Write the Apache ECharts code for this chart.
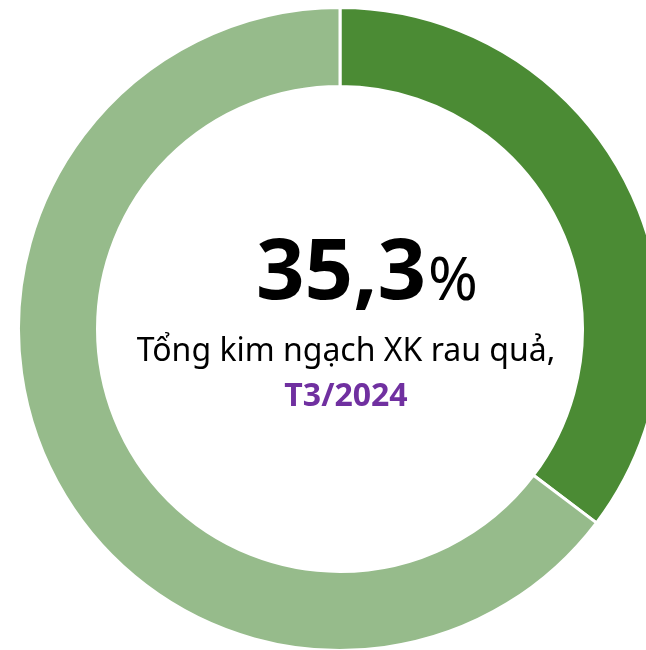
<!DOCTYPE html>
<html>
<head>
<meta charset="utf-8">
<script src="https://cdn.jsdelivr.net/npm/echarts@6/dist/echarts.min.js"></script>
<style>
  html, body { margin: 0; padding: 0; background: #fff; }
  #chart { width: 646px; height: 650px; }
</style>
</head>
<body>
<div id="chart"></div>
<script>
// share of fruit & vegetable export value
const sliceNames = ['Tỷ trọng', 'Còn lại'];
const sliceValues = [35.3, 64.7];
const sliceColors = ['#4b8b34', '#96bb8b'];

const bigLabel = '35,3';
const unitLabel = '%';
const subLabel = 'Tổng kim ngạch XK rau quả,';
const periodLabel = 'T3/2024';

const chart = echarts.init(document.getElementById('chart'));
const font = '"Noto Sans", "DejaVu Sans", sans-serif';

chart.setOption({
  animation: false,
  series: [
    {
      type: 'pie',
      center: [340, 329],
      radius: [242.5, 321.5],
      startAngle: 90,
      clockwise: true,
      label: { show: false },
      labelLine: { show: false },
      emphasis: { disabled: true },
      itemStyle: { borderColor: '#fff', borderWidth: 3 },
      data: sliceNames.map((name, i) => ({
        name: name,
        value: sliceValues[i],
        itemStyle: { color: sliceColors[i] }
      }))
    }
  ],
  graphic: [
    {
      type: 'text', left: null, x: 426, y: 275,
      style: { text: bigLabel, font: 'bold 85px ' + font, fill: '#000', textAlign: 'right', textVerticalAlign: 'middle' }
    },
    {
      type: 'text', x: 428, y: 283,
      style: { text: unitLabel, font: '60px ' + font, fill: '#000', textAlign: 'left', textVerticalAlign: 'middle' }
    },
    {
      type: 'text', x: 346, y: 352,
      style: { text: subLabel, font: '32px ' + font, fill: '#000', textAlign: 'center', textVerticalAlign: 'middle' }
    },
    {
      type: 'text', x: 346, y: 397,
      style: { text: periodLabel, font: 'bold 32px ' + font, fill: '#7030a0', textAlign: 'center', textVerticalAlign: 'middle' }
    }
  ]
});
</script>
</body>
</html>
